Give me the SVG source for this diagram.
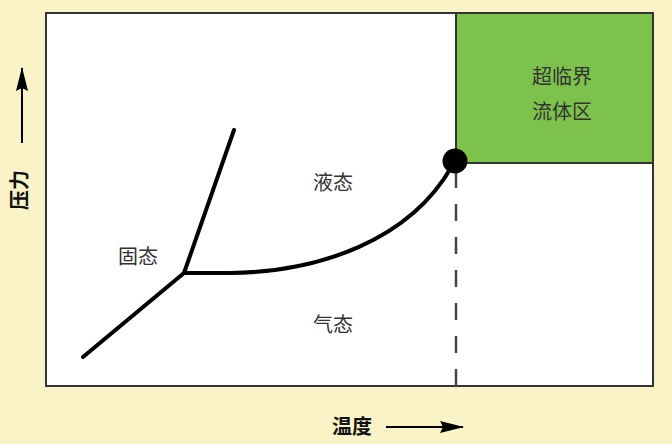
<svg xmlns="http://www.w3.org/2000/svg" width="672" height="444" viewBox="0 0 672 444">
<style>
.lbl{font-family:"Noto Sans CJK SC","Liberation Sans",sans-serif;font-size:20px;fill:#333;text-anchor:middle}
.axis{font-family:"Noto Sans CJK SC","Liberation Sans",sans-serif;font-size:20px;font-weight:bold;fill:#111;text-anchor:middle}
.curve{fill:none;stroke:#000;stroke-width:4;stroke-linecap:round;stroke-linejoin:round}
</style>
<defs>
<marker id="ah" viewBox="0 0 24 12" refX="23" refY="6" markerWidth="24" markerHeight="12" markerUnits="userSpaceOnUse" orient="auto">
<path d="M0,0 L24,6 L0,12 L3,6 z" fill="#000"/>
</marker>
</defs>
<rect width="672" height="444" fill="#FBF3C8"/>
<g id="plot">
<rect x="46" y="13" width="607" height="373" fill="#fff" stroke="#333" stroke-width="2"/>
</g>
<g id="supercritical">
<rect x="456" y="13" width="197" height="150" fill="#7DC24B" stroke="#333" stroke-width="2"/>
<text class="lbl" x="562" y="84">超临界</text>
<text class="lbl" x="562" y="119">流体区</text>
</g>
<g id="connectors">
<path class="curve" d="M83,357 L184,273 L234,130"/>
<path class="curve" d="M184,273 L230,273 C320,272 410,240 452,166"/>
<line x1="456" y1="386" x2="456" y2="172" stroke="#444" stroke-width="2.5" stroke-dasharray="17,16"/>
<line x1="22" y1="143" x2="22" y2="68" stroke="#000" stroke-width="2" marker-end="url(#ah)"/>
<line x1="386" y1="427" x2="463" y2="427" stroke="#000" stroke-width="2" marker-end="url(#ah)"/>
</g>
<g id="critical-point">
<circle cx="455" cy="161" r="12.5" fill="#000"/>
</g>
<g id="solid"><text class="lbl" x="138" y="264">固态</text></g>
<g id="liquid"><text class="lbl" x="333" y="190">液态</text></g>
<g id="gas"><text class="lbl" x="333" y="332">气态</text></g>
<g id="pressure"><text class="axis" transform="translate(27,190) rotate(-90)">压力</text></g>
<g id="temperature"><text class="axis" x="352" y="434">温度</text></g>
</svg>
